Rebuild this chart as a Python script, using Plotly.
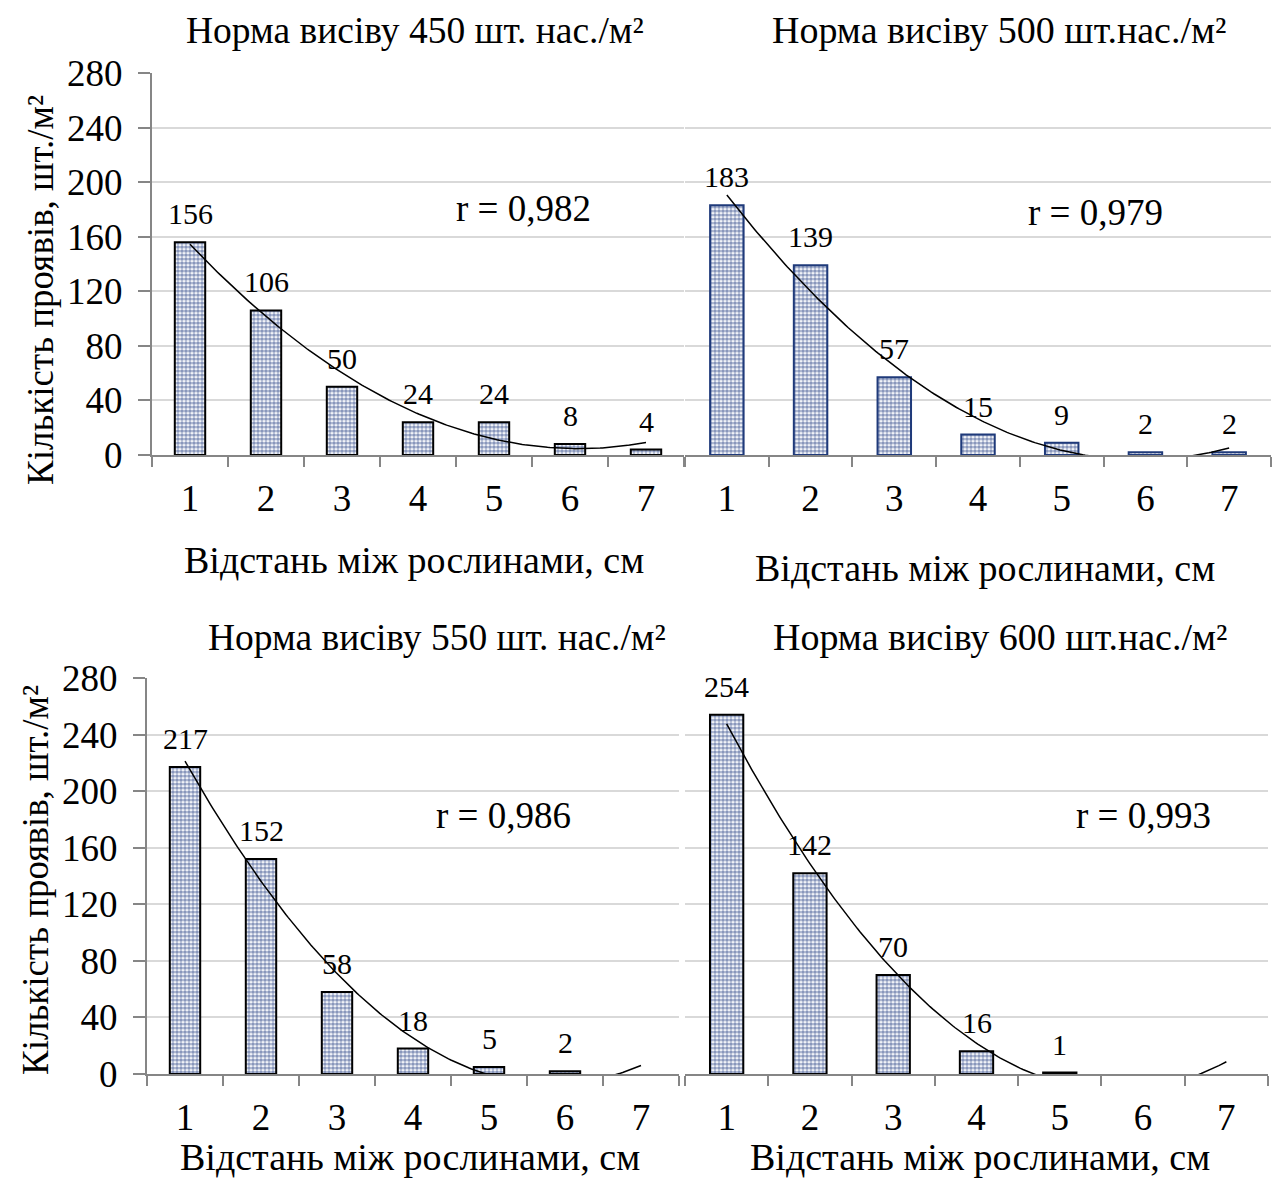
import numpy as np
import plotly.graph_objects as go

W, H = 1279, 1178

distances = [1, 2, 3, 4, 5, 6, 7]
values_450 = [156, 106, 50, 24, 24, 8, 4]
values_500 = [183, 139, 57, 15, 9, 2, 2]
values_550 = [217, 152, 58, 18, 5, 2, 0]
values_600 = [254, 142, 70, 16, 1, 0, 0]

titles = ["Норма висіву 450 шт. нас./м²", "Норма висіву 500 шт.нас./м²",
          "Норма висіву 550 шт. нас./м²", "Норма висіву 600 шт.нас./м²"]
r_labels = ["r = 0,982", "r = 0,979", "r = 0,986", "r = 0,993"]
y_ticks = [0, 40, 80, 120, 160, 200, 240, 280]
x_title = "Відстань між рослинами, см"
y_title = "Кількість проявів, шт./м²"

FONT = "Liberation Serif"

def px(x):
    return x / W

def py(y):
    return 1 - y / H

# panel pixel boxes: (left, right, top, bottom)
boxes = [(152, 684, 73, 455), (685, 1271, 73, 455),
         (147, 679, 678, 1074), (685, 1268, 678, 1074)]
edge_colors = ["#000000", "#1F3A7A", "#000000", "#000000"]
title_pos = [(415, 30), (999, 30), (437, 637), (1000, 637)]
title_sizes = [37.5, 38, 37.5, 38]
xtitle_pos = [(414, 560), (985, 568), (410, 1157), (980, 1157)]
r_pos = [(523, 208), (1095, 213), (503, 815), (1143, 815)]
ytitle_pos = [(40, 290), (35, 880)]

series = [values_450, values_500, values_550, values_600]

fig = go.Figure()
annotations = []

for i, vals in enumerate(series):
    n = i + 1
    xa = "x" if n == 1 else f"x{n}"
    ya = "y" if n == 1 else f"y{n}"
    fig.add_trace(go.Bar(
        x=distances, y=vals, xaxis=xa, yaxis=ya, width=0.4,
        marker=dict(color="white",
                    line=dict(color=edge_colors[i],
                              width=[2 if v > 0 else 0 for v in vals]),
                    pattern=dict(shape=".", fgcolor="#14307a", bgcolor="white",
                                 size=4, solidity=0.68)),
        showlegend=False, hoverinfo="skip"))
    coef = np.polyfit(distances, vals, 2)
    xs = np.linspace(distances[0], distances[-1], 200)
    ys = np.polyval(coef, xs)
    fig.add_trace(go.Scatter(
        x=xs, y=ys, xaxis=xa, yaxis=ya, mode="lines",
        line=dict(color="black", width=1.5), showlegend=False, hoverinfo="skip"))
    for xv, v in zip(distances, vals):
        if v > 0:
            annotations.append(dict(x=xv, y=v, xref=xa, yref=ya, text=str(v),
                                    showarrow=False, xanchor="center",
                                    yanchor="bottom", yshift=10,
                                    font=dict(family=FONT, size=30, color="black")))
    l, r, t, b = boxes[i]
    left_panel = (i % 2 == 0)
    fig.layout[f"xaxis{'' if n == 1 else n}"] = dict(
        domain=[px(l), px(r)], anchor=ya, range=[0.5, 7.5], automargin=False,
        tickmode="array", tickvals=distances, ticks="outside", ticklen=10,
        tickcolor="rgba(0,0,0,0)",
        showline=True, linecolor="#868686", linewidth=2,
        showgrid=False, zeroline=False,
        tickfont=dict(family=FONT, size=37, color="black"),
        minor=dict(tickmode="linear", tick0=0.5, dtick=1, ticks="outside",
                   ticklen=10, tickcolor="#868686", tickwidth=2, showgrid=False))
    fig.layout[f"yaxis{'' if n == 1 else n}"] = dict(
        domain=[py(b), py(t)], anchor=xa, range=[0, 280], automargin=False,
        tickmode="array", tickvals=y_ticks,
        showticklabels=left_panel,
        ticks="outside" if left_panel else "", ticklen=12,
        tickcolor="#868686", tickwidth=2, ticklabelstandoff=8,
        showline=left_panel, linecolor="#868686", linewidth=2,
        showgrid=True, gridcolor="#d9d9d9", gridwidth=2, zeroline=False,
        tickfont=dict(family=FONT, size=37, color="black"))
    tx, ty = title_pos[i]
    annotations.append(dict(x=px(tx), y=py(ty), xref="paper", yref="paper",
                            xanchor="center", yanchor="middle",
                            text=titles[i], showarrow=False,
                            font=dict(family=FONT, size=title_sizes[i], color="black")))
    xx, xy = xtitle_pos[i]
    annotations.append(dict(x=px(xx), y=py(xy), xref="paper", yref="paper",
                            xanchor="center", yanchor="middle",
                            text=x_title, showarrow=False,
                            font=dict(family=FONT, size=38, color="black")))
    rx, ry = r_pos[i]
    annotations.append(dict(x=px(rx), y=py(ry), xref="paper", yref="paper",
                            xanchor="center", yanchor="middle",
                            text=r_labels[i], showarrow=False,
                            font=dict(family=FONT, size=37, color="black")))

for (yx, yy) in ytitle_pos:
    annotations.append(dict(x=px(yx), y=py(yy), xref="paper", yref="paper",
                            xanchor="center", yanchor="middle",
                            text=y_title, showarrow=False, textangle=-90,
                            font=dict(family=FONT, size=37, color="black")))

fig.update_layout(width=W, height=H, margin=dict(l=0, r=0, t=0, b=0, autoexpand=False),
                  paper_bgcolor="white", plot_bgcolor="white",
                  bargap=0.6, annotations=annotations)

fig.write_html("out.html")
